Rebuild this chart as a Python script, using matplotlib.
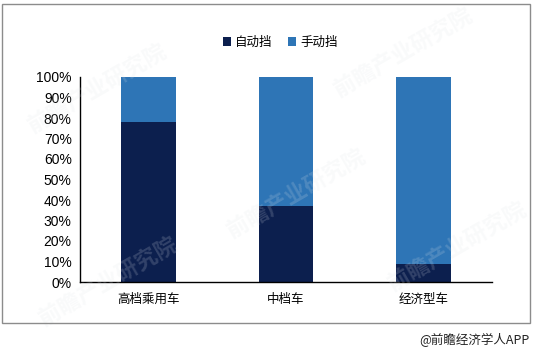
import matplotlib
matplotlib.use('Agg')
import matplotlib.pyplot as plt
from matplotlib.patches import Rectangle

plt.rcParams['font.family'] = ['Noto Sans CJK SC', 'DejaVu Sans']

categories = ['高档乘用车', '中档车', '经济型车']
auto_share = [0.78, 0.37, 0.09]
manual_share = [0.22, 0.63, 0.91]
series_names = ['自动挡', '手动挡']
yticks = [0, 0.1, 0.2, 0.3, 0.4, 0.5, 0.6, 0.7, 0.8, 0.9, 1.0]

c_auto = '#0c1f4e'
c_manual = '#2e75b6'

fig = plt.figure(figsize=(5.38, 3.52), dpi=100)
ax = fig.add_axes([80 / 538, 70 / 352, 412 / 538, 205 / 352])

x = range(len(categories))
ax.bar(x, auto_share, width=0.4, color=c_auto, label=series_names[0])
ax.bar(x, manual_share, width=0.4, bottom=auto_share, color=c_manual, label=series_names[1])

ax.set_xlim(-0.5, 2.5)
ax.set_ylim(0, 1)
ax.set_yticks(yticks)
ax.set_yticklabels([f'{int(round(v * 100))}%' for v in yticks],
                   family='Liberation Sans', fontsize=10)
ax.set_xticks(list(x))
ax.set_xticklabels(categories, fontsize=9)
ax.tick_params(axis='both', length=0, pad=6)
ax.tick_params(axis='x', pad=8)
for s in ['top', 'right']:
    ax.spines[s].set_visible(False)
for s in ['left', 'bottom']:
    ax.spines[s].set_color('black')
    ax.spines[s].set_linewidth(1.0)

fig.legend(loc='center', bbox_to_anchor=(280 / 538, 1 - 42 / 352), ncol=2,
           frameon=False, fontsize=9, handlelength=0.7, handleheight=0.7,
           handletextpad=0.3, columnspacing=1.2)

# faint watermark
for (wx, wy) in [(0.18, 0.75), (0.75, 0.85), (0.2, 0.2), (0.55, 0.45), (0.85, 0.3)]:
    fig.text(wx, wy, '前瞻产业研究院', fontsize=16, color='#dfe3e8', alpha=0.18,
             rotation=30, ha='center', va='center', zorder=0, fontweight='bold')

# outer frame
fig.patches.append(Rectangle((2 / 538, 1 - 323 / 352), 528 / 538, 319 / 352,
                             transform=fig.transFigure, fill=False,
                             edgecolor='#8c8c8c', linewidth=1.0))

fig.text(530 / 538, 1 - 340 / 352, '@前瞻经济学人APP', ha='right', va='center',
         fontsize=9, color='#222222')

fig.savefig('out.png', dpi=100)
